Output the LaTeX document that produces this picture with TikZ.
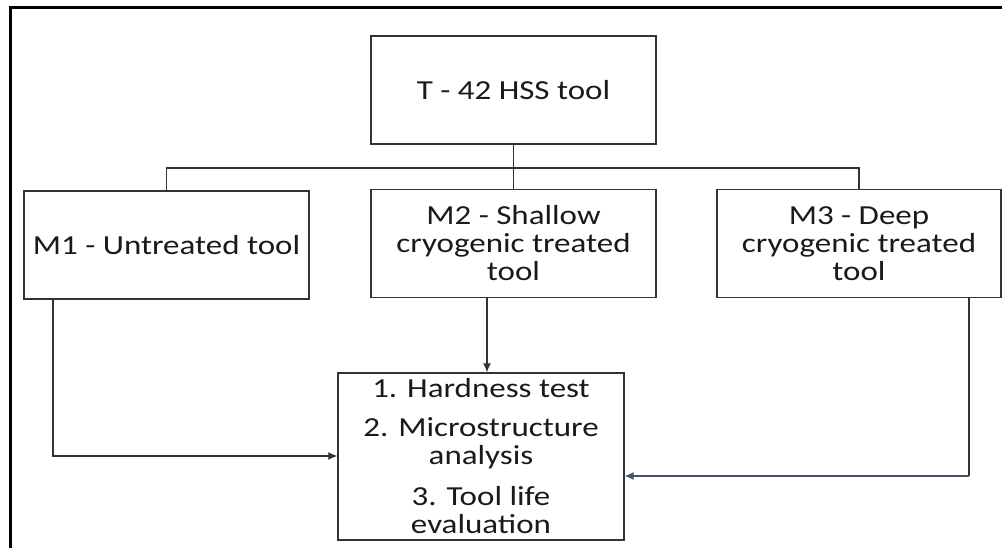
\documentclass[tikz,border=0pt]{standalone}
\usepackage{fontspec}
\setmainfont{Carlito}[FakeStretch=1.2]
\usetikzlibrary{arrows.meta}
\definecolor{linegray}{HTML}{333333}
\definecolor{textgray}{HTML}{1A1A1A}
\definecolor{slateblue}{HTML}{44546A}
\begin{document}
\begin{tikzpicture}[x=1pt,y=-1pt,
  box/.style={draw=linegray, line width=1.3pt, rectangle, inner sep=2pt,
    minimum width=285pt, minimum height=108pt, align=center,
    text=textgray, font=\fontsize{27.5}{28}\selectfont},
  link/.style={draw=linegray, line width=1.2pt},
  arr/.style={link, -{Latex[length=9pt,width=8pt]}}]
\useasboundingbox (0,0) rectangle (1002,548);
\fill[white] (0,0) rectangle (1002,548);
% frame running off the right and bottom edges
\begin{scope}
  \clip (0,0) rectangle (1002,548);
  \draw[black, line width=3pt] (10.5,7.5) rectangle (1020,570);
\end{scope}

\node[box] (top) at (513.5,90) {T - 42 HSS tool};
\node[box] (m1) at (166.5,245) {M1 - Untreated tool};
\node[box] (m2) at (513.5,243.5) {M2 - Shallow\\cryogenic treated\\tool};
\node[box, minimum width=284pt] (m3) at (859,243.5) {M3 - Deep\\cryogenic treated\\tool};
\node[box, minimum width=286pt, minimum height=167pt] (tests) at (481,456.5)
  {1. Hardness test\\[11pt]2. Microstructure\\analysis\\[13pt]3. Tool life\\evaluation};

% tree from the tool to the three treatments
\coordinate (split) at (513.5,168);
\draw[link] (top.south) -- (m2.north);
\draw[link] (split) -| (m1.north);
\draw[link] (split) -| (m3.north);

% treatments feeding the tests
\coordinate (m1foot) at (53,298);
\coordinate (m2foot) at (487,298);
\coordinate (m3foot) at (969,298);
\coordinate (m3turn) at (969,476);
\draw[arr] (m1foot) |- (tests.west |- 0,456);
\draw[arr] (m2foot) -- (tests.north -| 487,0);
\draw[link] (m3foot) -- (m3turn);
\draw[arr, draw=slateblue] (m3turn) -- (tests.east |- 0,476);
\end{tikzpicture}
\end{document}
